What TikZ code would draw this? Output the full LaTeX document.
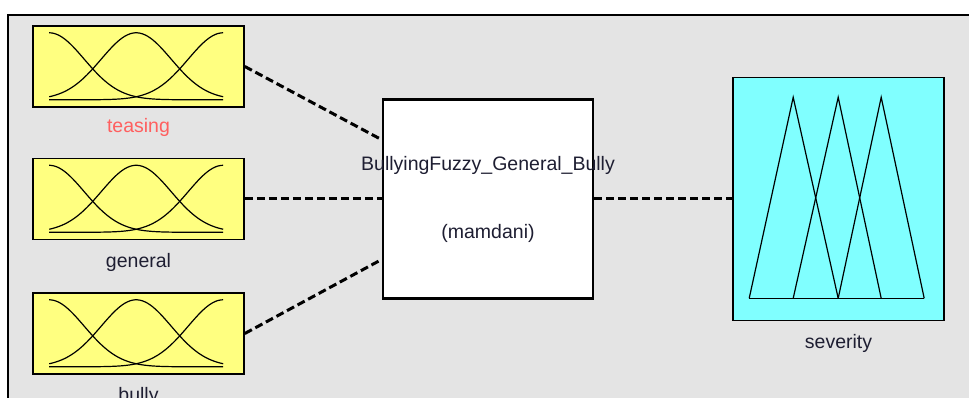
\documentclass[tikz,border=0pt]{standalone}
\usepackage{fontspec}
\setmainfont{Liberation Sans}
\usepackage{tikz}
\usetikzlibrary{calc,positioning}
\definecolor{panelgray}{RGB}{228,228,228}
\definecolor{inyellow}{RGB}{255,255,128}
\definecolor{outcyan}{RGB}{128,255,255}
\definecolor{selred}{RGB}{255,95,95}
\definecolor{labelink}{RGB}{30,30,50}
\tikzset{
  varfont/.style={font=\fontsize{19.5}{23}\selectfont},
  inbox/.style={draw=black,line width=1.6pt,fill=inyellow,inner sep=0pt,minimum width=211pt,minimum height=81pt},
  outbox/.style={draw=black,line width=1.6pt,fill=outcyan,inner sep=0pt,minimum width=211pt,minimum height=243pt},
  fisbox/.style={draw=black,line width=2.4pt,fill=white,inner sep=0pt,minimum width=210pt,minimum height=199pt},
  varname/.style={varfont,text=labelink,inner sep=0pt},
  link/.style={line width=3pt,dash pattern=on 8pt off 4pt},
  mfline/.style={line width=1.2pt,black}
}
% three gaussian mfs inside an input box (t runs 0..2, centres at 0,1,2)
\newcommand{\gaussmfs}[1]{%
  \begin{scope}[shift={(#1.south west)}]
  \foreach \c in {0,1,2}
    \draw[mfline] plot[domain=0:2,samples=70,smooth] ({17+87*\x},{8+67*exp(-((\x-\c)^2)/0.3234)});
  \end{scope}}

\begin{document}
\begin{tikzpicture}[x=1pt,y=1pt]
\useasboundingbox (0,0) rectangle (969,398);
\clip (0,0) rectangle (969,398);
\fill[white] (0,0) rectangle (969,398);
% editor panel
\fill[panelgray] (8,-5) rectangle (975,383);
\draw[line width=1.6pt] (8,-5) -- (8,383) -- (975,383);

% inputs
\node[inbox] (teasing) at (138.5,331.5) {};
\node[inbox] (general) at (138.5,199) {};
\node[inbox] (bully) at (138.5,64.5) {};
\gaussmfs{teasing}
\gaussmfs{general}
\gaussmfs{bully}
\node[varname,text=selred] (teasingname) at ([yshift=-20pt]teasing.south) {teasing};
\node[varname] (generalname) at ([yshift=-22pt]general.south) {general};
\node[varname] (bullyname) at ([yshift=-22pt]bully.south) {bully};

% rule block
\node[fisbox] (fis) at (488,199) {};
\node[varname] (fisname) at ([yshift=34pt]fis.center) {BullyingFuzzy\_General\_Bully};
\node[varname] (fistype) at ([yshift=-34pt]fis.center) {(mamdani)};

% output
\node[outbox] (severity) at (838.5,199) {};
\begin{scope}[shift={(severity.south west)}]
\draw[mfline] (17,23) -- (61,224) -- (106,23);
\draw[mfline] (61,23) -- (106,224) -- (149,23);
\draw[mfline] (106,23) -- (149,224) -- (192,23);
\draw[mfline] (17,23) -- (192,23);
\end{scope}
\node[varname] (severityname) at ([yshift=-22pt]severity.south) {severity};

% connections
\coordinate (fisin1) at ($(fis.north west)!0.206!(fis.south west)$);
\coordinate (fisin3) at ($(fis.north west)!0.8!(fis.south west)$);
\draw[link] (teasing.east) -- (fisin1);
\draw[link] (general.east) -- (fis.west);
\draw[link] (bully.east) -- (fisin3);
\draw[link] (fis.east) -- (severity.west);
\end{tikzpicture}
\end{document}
